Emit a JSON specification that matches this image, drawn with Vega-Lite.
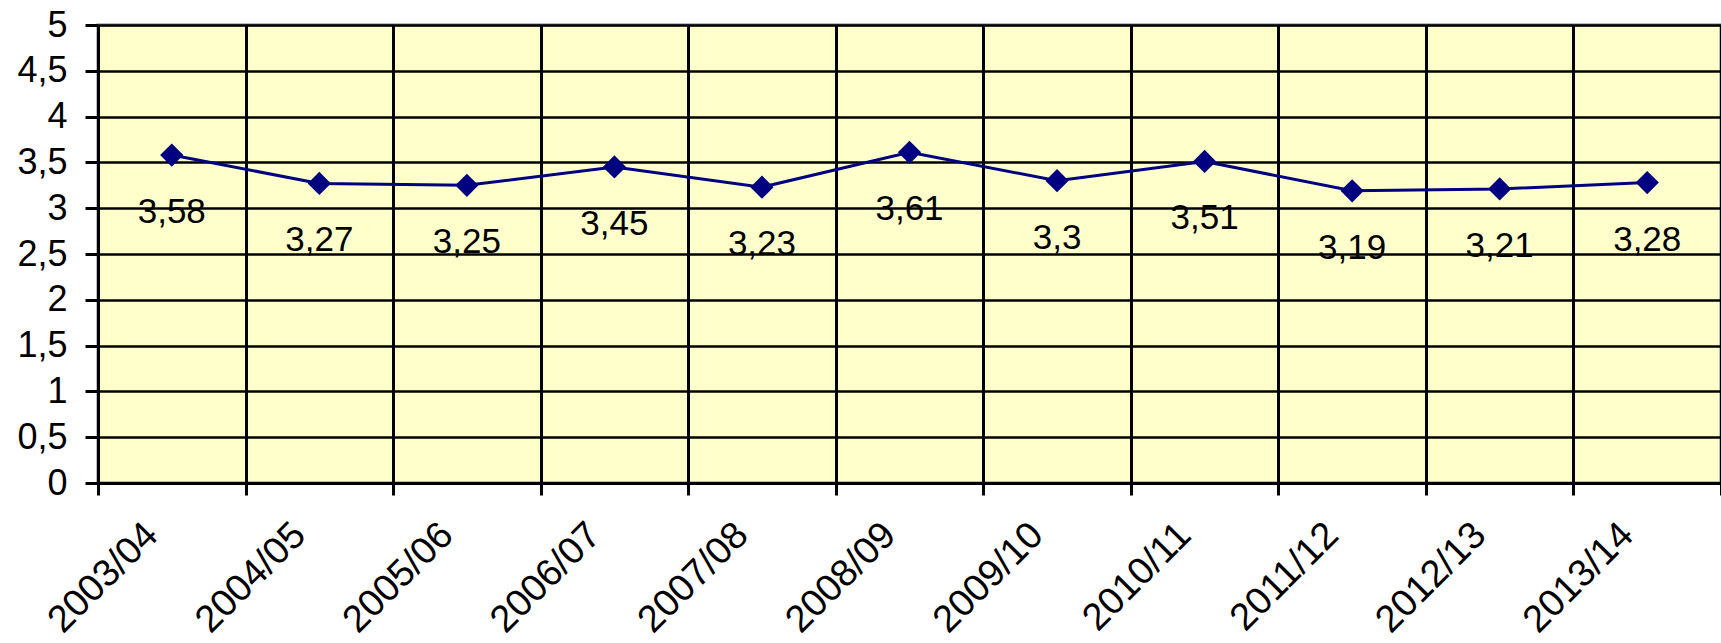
{
  "$schema": "https://vega.github.io/schema/vega-lite/v6.json",
  "autosize": "none",
  "width": 1623,
  "height": 458,
  "padding": {"left": 98, "top": 25, "right": 0, "bottom": 160},
  "background": "white",
  "config": {
    "locale": {"number": {"decimal": ",", "thousands": ".", "grouping": [3], "currency": ["", " €"]}},
    "view": {"fill": "#FFFFCC", "stroke": "#808080", "strokeWidth": 3},
    "font": "Liberation Sans"
  },
  "data": {
    "values": [
      {"year": "2003/04", "value": 3.58},
      {"year": "2004/05", "value": 3.27},
      {"year": "2005/06", "value": 3.25},
      {"year": "2006/07", "value": 3.45},
      {"year": "2007/08", "value": 3.23},
      {"year": "2008/09", "value": 3.61},
      {"year": "2009/10", "value": 3.3},
      {"year": "2010/11", "value": 3.51},
      {"year": "2011/12", "value": 3.19},
      {"year": "2012/13", "value": 3.21},
      {"year": "2013/14", "value": 3.28}
    ]
  },
  "encoding": {
    "x": {
      "field": "year",
      "type": "ordinal",
      "sort": null,
      "scale": {"type": "band", "paddingInner": 0, "paddingOuter": 0},
      "axis": {
        "title": null,
        "tickBand": "extent",
        "grid": true,
        "gridColor": "black",
        "gridWidth": 3,
        "gridOpacity": 1,
        "domainColor": "black",
        "domainWidth": 3,
        "tickColor": "black",
        "tickWidth": 3,
        "tickSize": 12,
        "labelAngle": -45,
        "labelAlign": "right",
        "labelBaseline": "middle",
        "labelFontSize": 38,
        "labelFont": "Liberation Sans",
        "labelColor": "black",
        "labelPadding": 34,
        "labelOffset": -20
      }
    },
    "y": {
      "field": "value",
      "type": "quantitative",
      "scale": {"domain": [0, 5], "nice": false, "zero": true},
      "axis": {
        "title": null,
        "values": [0, 0.5, 1, 1.5, 2, 2.5, 3, 3.5, 4, 4.5, 5],
        "format": "~g",
        "grid": true,
        "gridColor": "black",
        "gridWidth": 2.5,
        "gridOpacity": 1,
        "domainColor": "black",
        "domainWidth": 3,
        "tickColor": "black",
        "tickWidth": 3,
        "tickSize": 13,
        "labelFontSize": 36,
        "labelFont": "Liberation Sans",
        "labelColor": "black",
        "labelPadding": 18
      }
    }
  },
  "layer": [
    {"mark": {"type": "line", "color": "#000080", "strokeWidth": 3}},
    {"mark": {"type": "point", "shape": "diamond", "filled": true, "color": "#000080", "size": 540, "opacity": 1}},
    {
      "mark": {"type": "text", "dy": 57, "baseline": "middle", "align": "center", "fontSize": 35, "font": "Liberation Sans", "color": "black"},
      "encoding": {"text": {"field": "value", "type": "quantitative", "format": "~g"}}
    }
  ]
}
